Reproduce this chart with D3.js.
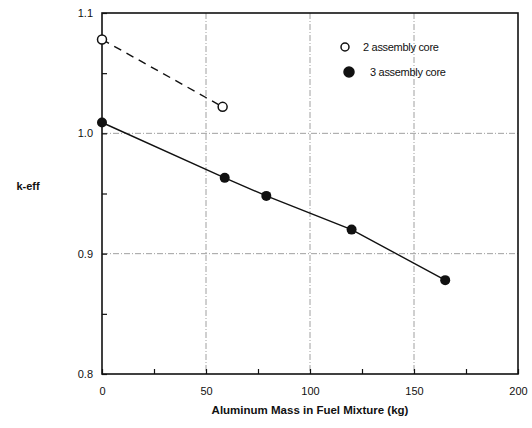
<!DOCTYPE html>
<html>
<head>
<meta charset="utf-8">
<script src="https://cdn.jsdelivr.net/npm/d3@7"></script>
<style>
  body { margin: 0; background: #fff; }
  text { font-family: "Liberation Sans", Arial, sans-serif; fill: #111; }
</style>
</head>
<body>
<div id="chart"></div>
<script>
// data
const massTwo = [0, 58];
const keffTwo = [1.078, 1.022];
const massThree = [0, 59, 79, 120, 165];
const keffThree = [1.009, 0.963, 0.948, 0.920, 0.878];
const xTicks = [0, 50, 100, 150, 200];
const yTicks = [0.8, 0.9, 1.0, 1.1];
const legendLabels = ["2 assembly core", "3 assembly core"];

const width = 532,
  height = 428;
const margin = { left: 102, top: 13, right: 14, bottom: 54 };

const svg = d3
  .select("#chart")
  .append("svg")
  .attr("width", width)
  .attr("height", height);

const x = d3.scaleLinear().domain([0, 200]).range([margin.left, width - margin.right]);
const y = d3.scaleLinear().domain([0.8, 1.1]).range([height - margin.bottom, margin.top]);

// *grid lines, dashed grey
const grid = svg.append("g").attr("stroke", "#888").attr("stroke-width", 0.8).attr("stroke-dasharray", "6,2,1,2");
grid.selectAll(".vgrid")
  .data([50, 100, 150])
  .enter()
  .append("line")
  .attr("x1", (d) => x(d))
  .attr("x2", (d) => x(d))
  .attr("y1", y(1.1))
  .attr("y2", y(0.8));
grid.selectAll(".hgrid")
  .data([0.9, 1.0])
  .enter()
  .append("line")
  .attr("x1", x(0))
  .attr("x2", x(200))
  .attr("y1", (d) => y(d))
  .attr("y2", (d) => y(d));

// *frame
svg.append("rect")
  .attr("x", x(0))
  .attr("y", y(1.1))
  .attr("width", x(200) - x(0))
  .attr("height", y(0.8) - y(1.1))
  .attr("fill", "none")
  .attr("stroke", "#111")
  .attr("stroke-width", 1.6);

// *axes with inward ticks
const xAxis = svg.append("g")
  .attr("transform", "translate(0," + y(0.8) + ")")
  .call(d3.axisBottom(x).tickValues(d3.range(0, 201, 25)).tickSize(-5).tickPadding(13)
    .tickFormat((d) => (xTicks.includes(d) ? d3.format("d")(d) : "")));
const yAxis = svg.append("g")
  .attr("transform", "translate(" + x(0) + ",0)")
  .call(d3.axisLeft(y).tickValues(d3.range(0.8, 1.1001, 0.05)).tickSize(-5).tickPadding(9)
    .tickFormat((d) => (yTicks.some((t) => Math.abs(t - d) < 1e-6) ? d3.format(".1f")(d) : "")));
[xAxis, yAxis].forEach((a) => {
  a.select(".domain").remove();
  a.selectAll("line").attr("stroke", "#111").attr("stroke-width", 1.2);
  a.selectAll("text").style("font-size", "11px");
});

// *axis labels
svg.append("text")
  .attr("x", x(100))
  .attr("y", 414)
  .attr("text-anchor", "middle")
  .style("font-size", "11.5px")
  .style("font-weight", "bold")
  .text("Aluminum Mass in Fuel Mixture (kg)");
svg.append("text")
  .attr("x", 28)
  .attr("y", y(0.95) - 4)
  .attr("text-anchor", "middle")
  .style("font-size", "11px")
  .style("font-weight", "bold")
  .text("k-eff");

// *lines
const two = massTwo.map((m, i) => ({ m: m, k: keffTwo[i] }));
const three = massThree.map((m, i) => ({ m: m, k: keffThree[i] }));
const line = d3.line().x((d) => x(d.m)).y((d) => y(d.k));

svg.append("path")
  .datum(two)
  .attr("d", line)
  .attr("fill", "none")
  .attr("stroke", "#111")
  .attr("stroke-width", 1.4)
  .attr("stroke-dasharray", "8,6");
svg.append("path")
  .datum(three)
  .attr("d", line)
  .attr("fill", "none")
  .attr("stroke", "#111")
  .attr("stroke-width", 1.4);

// *markers
svg.selectAll(".openPt")
  .data(two)
  .enter()
  .append("circle")
  .attr("cx", (d) => x(d.m))
  .attr("cy", (d) => y(d.k))
  .attr("r", 4.5)
  .attr("fill", "#fff")
  .attr("stroke", "#111")
  .attr("stroke-width", 1.5);
svg.selectAll(".fillPt")
  .data(three)
  .enter()
  .append("circle")
  .attr("cx", (d) => x(d.m))
  .attr("cy", (d) => y(d.k))
  .attr("r", 5)
  .attr("fill", "#111");

// *legend
const legend = svg.append("g");
legendLabels.forEach((lab, i) => {
  legend.append("circle")
    .attr("cx", 345 + i * 4)
    .attr("cy", 47 + i * 25)
    .attr("r", i === 0 ? 4 : 5)
    .attr("fill", i === 0 ? "#fff" : "#111")
    .attr("stroke", "#111")
    .attr("stroke-width", 1.5);
  legend.append("text")
    .attr("x", 363 + i * 7)
    .attr("y", 51 + i * 25)
    .style("font-size", "11px")
    .style("letter-spacing", "-0.3px")
    .text(lab);
});
</script>
</body>
</html>
